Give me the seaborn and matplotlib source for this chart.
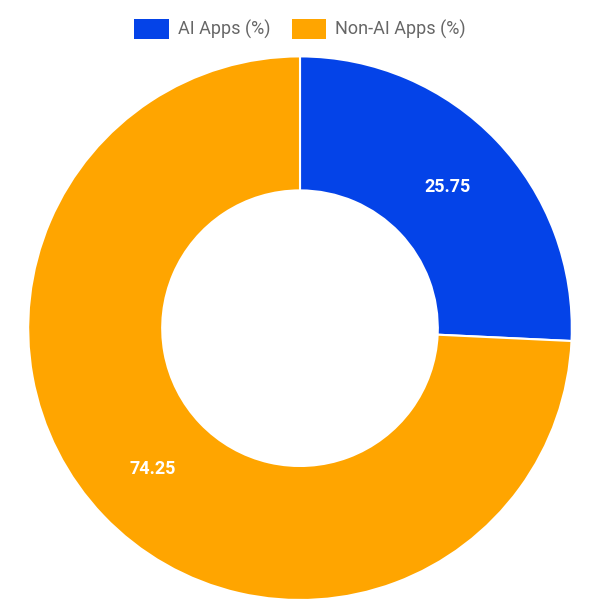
import matplotlib
matplotlib.use("Agg")
import matplotlib.pyplot as plt
import seaborn as sns
from matplotlib.patches import Patch

categories = ["AI Apps (%)", "Non-AI Apps (%)"]
values = [25.75, 74.25]
colors = ["#0443E8", "#FFA500"]

sns.set_theme(style="white")
fig = plt.figure(figsize=(6, 6), dpi=100)
ax = fig.add_axes([0.047, 0.0, 0.906, 0.906])
wedges, texts, autotexts = ax.pie(
    values, colors=sns.color_palette(colors), startangle=90, counterclock=False,
    radius=1, wedgeprops=dict(width=0.493, edgecolor="white", linewidth=1.5),
    autopct=lambda p: f"{p:.2f}", pctdistance=0.75,
    textprops=dict(color="white", fontsize=13, fontweight="bold", family="Roboto"))
ax.set_xlim(-1, 1); ax.set_ylim(-1, 1); ax.set_aspect("equal")
handles = [Patch(facecolor=c, edgecolor="none") for c in colors]
fig.legend(handles, categories, loc="upper center", bbox_to_anchor=(0.5, 0.995), ncol=2,
           frameon=False, handlelength=1.9, handleheight=1.3, columnspacing=1.2,
           handletextpad=0.5, prop=dict(family="Roboto", size=13), labelcolor="#666666")
fig.savefig("out.png", dpi=100)
